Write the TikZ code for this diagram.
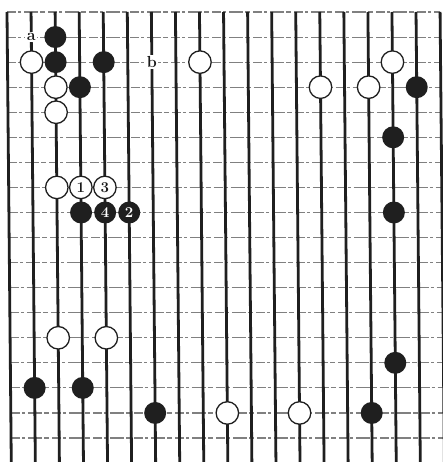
\documentclass[tikz,border=0pt]{standalone}
\tikzset{
  vline/.style={line width=2.8pt, draw=black!88},
  hline/.style={line width=1.1pt, draw=black!50, dash pattern=on 9pt off 2pt on 3pt off 3pt on 14pt off 2pt on 5pt off 3pt},
  bstone/.style={circle, fill=black!88, inner sep=0pt, minimum size=22pt, text=white, font=\fontsize{15}{15}\selectfont\bfseries},
  wstone/.style={circle, draw=black!88, line width=1.3pt, fill=white, inner sep=0pt, minimum size=22.5pt, text=black!90, font=\fontsize{15}{15}\selectfont\bfseries},
  lbl/.style={fill=white, inner sep=1.5pt, text=black!90, font=\fontsize{16}{16}\selectfont\bfseries}
}
\begin{document}
\begin{tikzpicture}[x=1pt,y=-1pt]
\useasboundingbox (0,0) rectangle (443,462);
\fill[white] (0,0) rectangle (443,462);
\foreach \c in {0,...,18}{\foreach \r in {0,...,18}{
  \coordinate (p-\c-\r) at ({7+24.06*\c+0.0095*25.06*\r},{12+25.06*\r});
}}
\foreach \r in {0,...,17} \draw[hline] (p-0-\r) -- (p-18-\r);
\foreach \c in {0,...,18} \draw[vline] (p-\c-0) -- (p-\c-18);
% black stones
\node[bstone] (b1) at (p-2-1) {};
\node[bstone] (b2) at (p-2-2) {};
\node[bstone] (b3) at (p-4-2) {};
\node[bstone] (b4) at (p-3-3) {};
\node[bstone] (b5) at (p-17-3) {};
\node[bstone] (b6) at (p-16-5) {};
\node[bstone] (b7) at (p-3-8) {};
\node[bstone] (b8) at (p-4-8) {4};
\node[bstone] (b9) at (p-5-8) {2};
\node[bstone] (b10) at (p-16-8) {};
\node[bstone] (b11) at (p-16-14) {};
\node[bstone] (b12) at (p-1-15) {};
\node[bstone] (b13) at (p-3-15) {};
\node[bstone] (b14) at (p-6-16) {};
\node[bstone] (b15) at (p-15-16) {};
% white stones
\node[wstone] (w1) at (p-1-2) {};
\node[wstone] (w2) at (p-8-2) {};
\node[wstone] (w3) at (p-16-2) {};
\node[wstone] (w4) at (p-2-3) {};
\node[wstone] (w5) at (p-13-3) {};
\node[wstone] (w6) at (p-15-3) {};
\node[wstone] (w7) at (p-2-4) {};
\node[wstone] (w8) at (p-2-7) {};
\node[wstone] (w9) at (p-3-7) {1};
\node[wstone] (w10) at (p-4-7) {3};
\node[wstone] (w11) at (p-2-13) {};
\node[wstone] (w12) at (p-4-13) {};
\node[wstone] (w13) at (p-9-16) {};
\node[wstone] (w14) at (p-12-16) {};
% labels
\node[lbl] (la) at (p-1-1) {a};
\node[lbl] (lb) at (p-6-2) {b};
\end{tikzpicture}
\end{document}
